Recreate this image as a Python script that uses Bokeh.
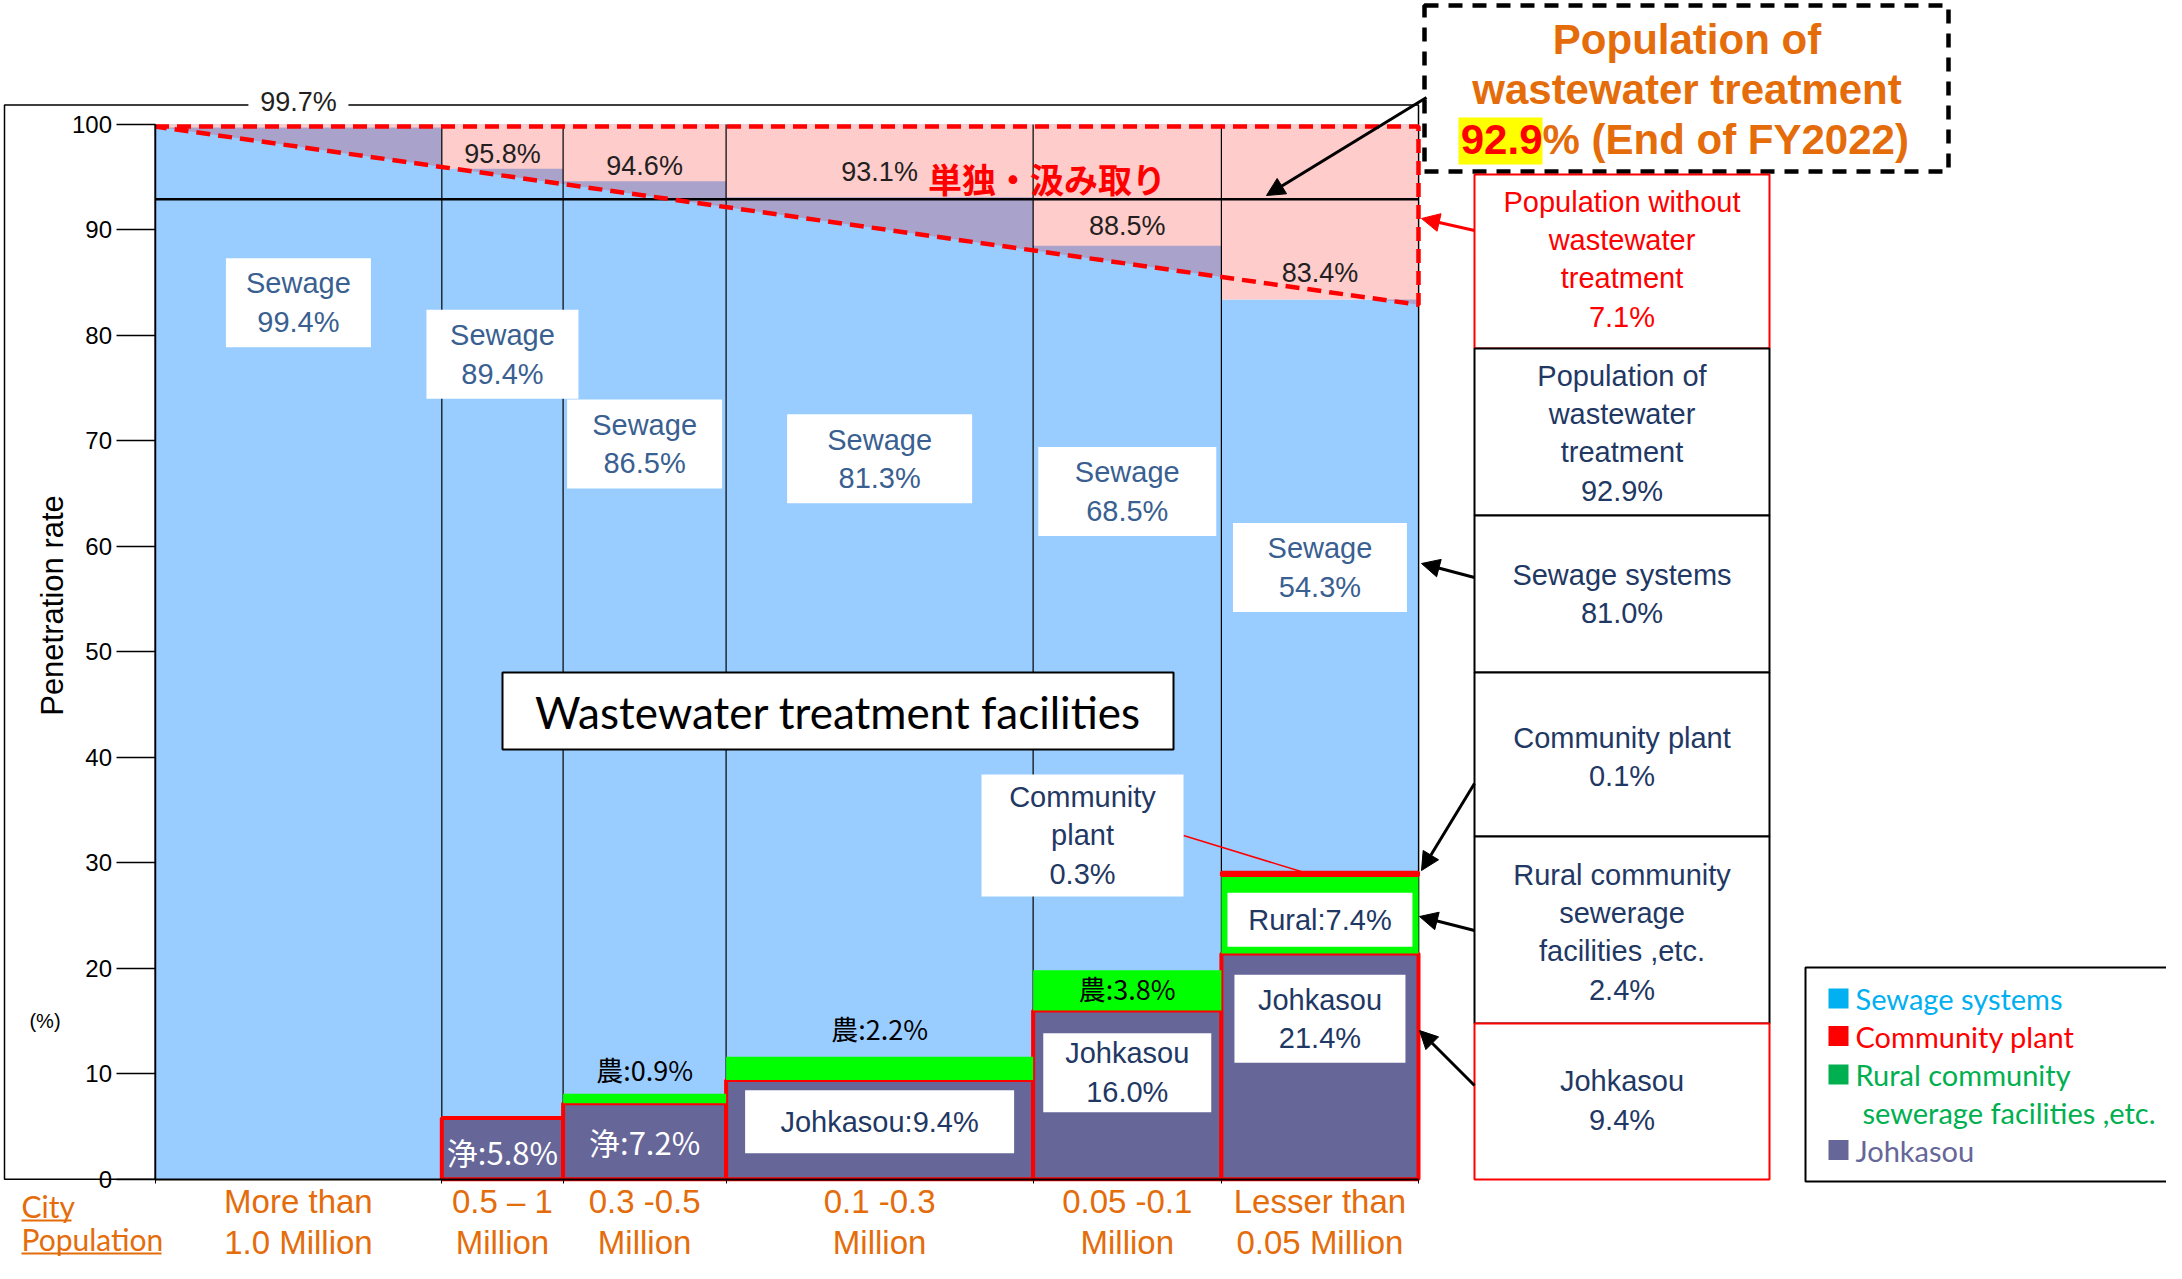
import numpy as np
from bokeh.plotting import figure
from bokeh.models import Range1d, LinearAxis, FixedTicker, Arrow, NormalHead, AllLabels
from bokeh.core.properties import value
from bokeh.embed import file_html
from bokeh.resources import INLINE

# ----------------------------- data -----------------------------
city_groups = ["More than\n1.0 Million", "0.5 \u2013 1\nMillion", "0.3 -0.5\nMillion",
               "0.1 -0.3\nMillion", "0.05 -0.1\nMillion", "Lesser than\n0.05 Million"]
pop_share = [22.7, 9.6, 12.9, 24.3, 14.9, 15.6]          # column widths (share of population)
treated_total = [99.7, 95.8, 94.6, 93.1, 88.5, 83.4]     # population with wastewater treatment
sewage = [99.4, 89.4, 86.5, 81.3, 68.5, 54.3]
community = [0.0, 0.0, 0.0, 0.0, 0.0, 0.3]
rural = [0.0, 0.0, 0.9, 2.2, 3.8, 7.4]
johkasou = [0.3, 5.8, 7.2, 9.4, 16.0, 21.4]
y_ticks = [0, 10, 20, 30, 40, 50, 60, 70, 80, 90, 100]
national_treated = 92.9
national_untreated = 7.1
national_sewage = 81.0
national_community = 0.1
national_rural = 2.4
national_johkasou = 9.4
untreated_outline = [99.8, 82.9]   # left / right level of the dashed outline

# ----------------------------- layout -----------------------------
W, H = 2166, 1263
X0, KX = 154.5, 12.635      # pixel of x=0, pixels per unit
Y0, KY = 1178.7, 10.548     # pixel of y=0, pixels per unit


def rx(X):
    return (X - X0) / KX


def ry(Y):
    return (Y0 - Y) / KY


ARIAL = "Liberation Sans"
CJK = "Noto Sans CJK JP"
CAL = "Lato"

SEW_BLUE = "#99CCFF"
OVER = "#A9A3CC"
PINK = "#FFCCCC"
JOH = "#666699"
GREEN = "#00FF00"
RED = "#FF0000"
ORANGE = "#E46C0A"
NAVY = "#1F3864"
SEWTXT = "#3A5F91"
DARK = "#231F20"

p = figure(width=W, height=H, output_backend="svg", toolbar_location=None,
           x_range=Range1d(rx(0), rx(W)), y_range=Range1d(ry(H), ry(0)),
           x_axis_type=None, y_axis_type=None, min_border=0)
p.outline_line_color = None
p.background_fill_color = "white"
p.border_fill_color = "white"


def txt(x, y, s, size, color="black", font=ARIAL, align="center", baseline="middle",
        style="normal", angle=0.0, lh=1.2):
    p.text(x=[x], y=[y], text=[s], text_font=value(font), text_font_size=f"{size}px",
           text_color=color, text_align=align, text_baseline=baseline,
           text_font_style=style, angle=angle, text_line_height=lh)


def box(x, y, w, h, fill="white", line=None, lw=1.0):
    p.rect(x=[x], y=[y], width=[w], height=[h], width_units="screen", height_units="screen",
           fill_color=fill, line_color=line, line_width=lw)


edges = np.concatenate([[0.0], np.cumsum(pop_share)])
left, right = edges[:-1], edges[1:]
centers = np.round((left + right) / 2, 4)
j = np.array(johkasou)
r = np.array(rural)
c = np.array(community)
tot = np.array(treated_total)
xmax = float(edges[-1])

# outer frame of the chart
p.quad(left=[rx(4)], right=[xmax], bottom=[0], top=[ry(104.4)], fill_color=None,
       line_color="black", line_width=1.5)

# columns
p.quad(left=left, right=right, bottom=0, top=tot, fill_color=SEW_BLUE, line_color=None)
p.patch(x=[0, xmax, xmax, 0], y=[untreated_outline[0], untreated_outline[1], 100, 100],
        fill_color=OVER, line_color=None)
p.quad(left=left, right=right, bottom=tot, top=100, fill_color=PINK, line_color=None)

# national treated level
p.segment(x0=[0], y0=[national_treated], x1=[xmax], y1=[national_treated],
          line_color="black", line_width=2.5)
# column separators
p.segment(x0=edges, y0=0, x1=edges, y1=100, line_color="black", line_width=1.2)

# stacked components at the bottom
mj = j >= 1
p.quad(left=left[mj], right=right[mj], bottom=0, top=j[mj], fill_color=JOH,
       line_color=RED, line_width=4)
mr = r > 0
p.quad(left=left[mr], right=right[mr], bottom=j[mr], top=(j + r)[mr], fill_color=GREEN,
       line_color=None)
mc = c > 0
p.quad(left=left[mc], right=right[mc], bottom=(j + r)[mc], top=(j + r + c)[mc],
       fill_color=RED, line_color=RED, line_width=3)

# dashed outline of the population without treatment
p.line(x=[0, xmax, xmax, 0], y=[untreated_outline[0], untreated_outline[0],
                                 untreated_outline[1], untreated_outline[0]],
       line_color=RED, line_width=4.5, line_dash="14 8")

# axes
yaxis = LinearAxis(fixed_location=0, bounds=(0, 100), ticker=FixedTicker(ticks=y_ticks))
yaxis.major_tick_out = 39
yaxis.major_tick_in = 0
yaxis.minor_tick_out = 0
yaxis.minor_tick_in = 0
yaxis.axis_line_width = 1.5
yaxis.major_tick_line_width = 1.5
yaxis.major_label_standoff = 4
yaxis.major_label_text_font = ARIAL
yaxis.major_label_text_font_size = "24px"
yaxis.major_label_text_color = "black"
p.add_layout(yaxis, "left")

xaxis = LinearAxis(fixed_location=0, bounds=(0, xmax),
                   ticker=FixedTicker(ticks=list(centers), minor_ticks=list(edges)))
xaxis.major_label_overrides = {float(cc): g for cc, g in zip(centers, city_groups)}
xaxis.major_label_policy = AllLabels()
xaxis.major_tick_out = 0
xaxis.major_tick_in = 0
xaxis.minor_tick_out = 4
xaxis.minor_tick_in = 0
xaxis.minor_tick_line_color = "black"
xaxis.axis_line_width = 2
xaxis.major_label_standoff = 0
xaxis.major_label_text_font = ARIAL
xaxis.major_label_text_font_size = "33px"
xaxis.major_label_text_color = ORANGE
xaxis.major_label_text_line_height = 1.1
p.add_layout(xaxis, "below")

txt(rx(51.5), ry(605), "Penetration rate", 31, angle=np.pi / 2)
txt(rx(44.5), ry(1020), "(%)", 20)
txt(rx(21), ry(1205), "City", 30, color=ORANGE, font=CAL, align="left")
txt(rx(21), ry(1238), "Population", 30, color=ORANGE, font=CAL, align="left")
p.segment(x0=[rx(21), rx(21)], y0=[ry(1220), ry(1253)], x1=[rx(71), rx(161)],
          y1=[ry(1220), ry(1253)], line_color=ORANGE, line_width=2)

# total labels
total_lbl_y = [102.1, 97.2, 96.05, 95.5, 90.4, 85.9]
box(centers[0], total_lbl_y[0], 100, 30)
for i in range(6):
    txt(centers[i], total_lbl_y[i], f"{treated_total[i]}%", 27, color=DARK)
txt(rx(1046.5), ry(178), "\u5358\u72ec\u30fb\u6c72\u307f\u53d6\u308a", 34, color=RED,
    font=CJK, style="bold")

# sewage labels
sewage_lbl_y = [83.1, 78.2, 69.7, 68.3, 65.2, 58.0]
sewage_box_w = [145, 152, 155, 185, 178, 174]
for i in range(6):
    box(centers[i], sewage_lbl_y[i], sewage_box_w[i], 89)
    txt(centers[i], sewage_lbl_y[i], f"Sewage\n{sewage[i]}%", 29, color=SEWTXT)

# johkasou labels
txt(centers[1], 2.6, f"\u6d44:{johkasou[1]}%", 31, color="white", font=CJK)
txt(centers[2], 3.6, f"\u6d44:{johkasou[2]}%", 31, color="white", font=CJK)
box(centers[3], 5.45, 269, 63)
txt(centers[3], 5.45, f"Johkasou:{johkasou[3]}%", 29, color=NAVY)
box(centers[4], 10.1, 168, 79)
txt(centers[4], 10.1, f"Johkasou\n{johkasou[4]}%", 29, color=NAVY)
box(centers[5], 15.2, 171, 88)
txt(centers[5], 15.2, f"Johkasou\n{johkasou[5]}%", 29, color=NAVY)

# rural labels
txt(centers[2], 10.4, f"\u8fb2:{rural[2]}%", 27, color="black", font=CJK)
txt(centers[3], 14.25, f"\u8fb2:{rural[3]}%", 27, color="black", font=CJK)
txt(centers[4], 18.1, f"\u8fb2:{rural[4]}%", 27, color="black", font=CJK)
box(centers[5], 24.6, 185, 54)
txt(centers[5], 24.6, f"Rural:{rural[5]}%", 29, color=NAVY)

# community plant callout
p.segment(x0=[rx(1183)], y0=[ry(835)], x1=[rx(1308)], y1=[j[5] + r[5] + c[5] / 2],
          line_color=RED, line_width=1.5)
box(rx(1082), ry(835), 202, 122)
txt(rx(1082), ry(835), f"Community\nplant\n{community[5]}%", 29, color=NAVY)

# central caption
p.quad(left=[rx(502)], right=[rx(1173)], bottom=[ry(749)], top=[ry(672)],
       fill_color="white", line_color="black", line_width=2)
txt(rx(837.5), ry(711), "Wastewater treatment facilities", 44, color="black", font=CAL)

# title box
p.quad(left=[rx(1424)], right=[rx(1948)], bottom=[ry(171)], top=[ry(5)],
       fill_color=None, line_color="black", line_width=4.5, line_dash="14 10")
txt(rx(1686.5), ry(39), "Population of", 42, color=ORANGE, style="bold")
txt(rx(1686.5), ry(89), "wastewater treatment", 42, color=ORANGE, style="bold")
box(rx(1500), ry(140.5), 84, 47, fill="#FFFF00")
txt(rx(1542), ry(139), f"{national_treated}", 42, color=RED, style="bold", align="right")
txt(rx(1542), ry(139), "% (End of FY2022)", 42, color=ORANGE, style="bold", align="left")

# national summary boxes
summary = [
    (174, 348, RED, f"Population without\nwastewater\ntreatment\n{national_untreated}%", RED, 258.8),
    (348, 515, "black", f"Population of\nwastewater\ntreatment\n{national_treated}%", NAVY, 432.8),
    (515, 672, "black", f"Sewage systems\n{national_sewage}%", NAVY, 593.5),
    (672, 836, "black", f"Community plant\n{national_community}%", NAVY, 756.3),
    (836, 1023, "black", f"Rural community\nsewerage\nfacilities ,etc.\n{national_rural}%", NAVY, 931.7),
    (1023, 1179, RED, f"Johkasou\n{national_johkasou}%", NAVY, 1100.0),
]
for top_, bot_, lc, s, tc, yc in summary:
    p.quad(left=[rx(1474)], right=[rx(1769)], bottom=[ry(bot_)], top=[ry(top_)],
           fill_color="white", line_color=lc, line_width=2)
    txt(rx(1621.5), ry(yc), s, 29, color=tc)


def arrow(X1, Y1, X2, Y2, color="black", lw=3.0, size=18):
    p.add_layout(Arrow(x_start=rx(X1), y_start=ry(Y1), x_end=rx(X2), y_end=ry(Y2),
                       line_color=color, line_width=lw,
                       end=NormalHead(size=size, fill_color=color, line_color=color)))


arrow(1426, 97, 1266, 195)
arrow(1474, 230, 1421, 218, color=RED)
arrow(1474, 577, 1421, 563)
arrow(1474, 783, 1421, 870)
arrow(1474, 930, 1419, 916)
arrow(1474, 1085, 1419, 1030)

# legend
p.quad(left=[rx(1805)], right=[rx(2200)], bottom=[ry(1181)], top=[ry(967)],
       fill_color="white", line_color="black", line_width=2)
legend_items = [("Sewage systems", "#00B0F0", 998, True, 1855),
                ("Community plant", RED, 1035.5, True, 1855),
                ("Rural community", "#00B050", 1074, True, 1855),
                ("sewerage facilities ,etc.", "#00B050", 1112, False, 1862),
                ("Johkasou", JOH, 1149.5, True, 1855)]
for lab, col, yc, sq, xl in legend_items:
    if sq:
        box(rx(1838), ry(yc), 20, 20, fill=col)
    txt(rx(xl), ry(yc), lab, 29, color=col, font=CAL, align="left")

open("out.html", "w").write(file_html(p, INLINE, title="Wastewater treatment"))
